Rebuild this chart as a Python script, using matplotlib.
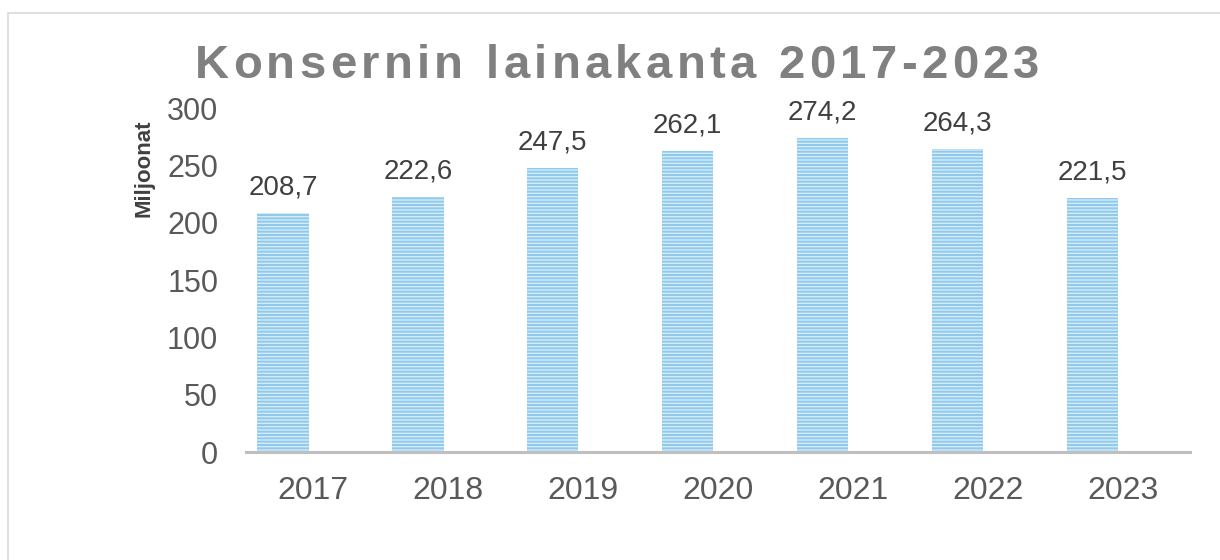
import matplotlib
matplotlib.use('Agg')
import matplotlib.pyplot as plt
from matplotlib.patches import Rectangle

plt.rcParams['font.family'] = ['Liberation Sans', 'DejaVu Sans']
plt.rcParams['hatch.linewidth'] = 1.4

vuodet = ['2017', '2018', '2019', '2020', '2021', '2022', '2023']
lainakanta = [208.7, 222.6, 247.5, 262.1, 274.2, 264.3, 221.5]
y_ticks = [0, 50, 100, 150, 200, 250, 300]
otsikko = 'Konsernin lainakanta 2017-2023'

fig = plt.figure(figsize=(12.2, 5.6), dpi=100)
ax = fig.add_axes([246 / 1220, 1 - 452 / 560, (1190 - 246) / 1220, (452 - 108) / 560])

x = list(range(len(vuodet)))
# palkit ovat hieman vasemmalla kategorian keskeltä (toinen sarja tyhjä)
xb = [xi - 0.225 for xi in x]
bars = ax.bar(xb, lainakanta, width=0.38, facecolor='#d4ebf8', edgecolor='#8fc9eb',
              linewidth=0, hatch='-----', zorder=2)

for xi, v in zip(xb, lainakanta):
    ax.annotate(f'{v:.1f}'.replace('.', ','), (xi, v), xytext=(0, 9), textcoords='offset points',
                ha='center', va='bottom', fontsize=20, color='#404040')

ax.set_xlim(-0.5, len(vuodet) - 0.5)
ax.set_ylim(0, 300)
ax.set_xticks(x)
ax.set_xticklabels(vuodet)
ax.set_yticks(y_ticks)
ax.tick_params(axis='both', length=0, labelcolor='#595959')
ax.tick_params(axis='y', pad=20, labelsize=22)
ax.tick_params(axis='x', pad=17, labelsize=23)
for s in ['top', 'right', 'left']:
    ax.spines[s].set_visible(False)
ax.spines['bottom'].set_color('#bfbfbf')
ax.spines['bottom'].set_linewidth(2.2)
ax.spines['bottom'].set_zorder(3)

fig.text(144 / 1220, 1 - 168 / 560, 'Miljoonat', rotation=90, ha='center', va='center',
         fontsize=16, fontweight='bold', color='#404040')

# reunus
fig.patches.append(Rectangle((8 / 1220, -0.1), 1.2, 1 - 13 / 560 + 0.1, transform=fig.transFigure,
                             fill=False, edgecolor='#d9d9d9', linewidth=1.2))

# otsikko harvennetulla kirjainvälillä
renderer = fig.canvas.get_renderer()
leveydet = []
for ch in otsikko:
    t = fig.text(0, 0, ch if ch != ' ' else 'n', fontsize=34, fontweight='bold')
    w = t.get_window_extent(renderer).width
    if ch == ' ':
        w *= 0.5
    leveydet.append(w)
    t.remove()
tavoite = 845
vali = (tavoite - sum(leveydet)) / (len(otsikko) - 1)
xpos = 617 - tavoite / 2
for ch, w in zip(otsikko, leveydet):
    if ch != ' ':
        fig.text(xpos / 1220, 1 - 78 / 560, ch, fontsize=34, fontweight='bold',
                 color='#808080', ha='left', va='baseline')
    xpos += w + vali

fig.savefig('out.png', dpi=100)
